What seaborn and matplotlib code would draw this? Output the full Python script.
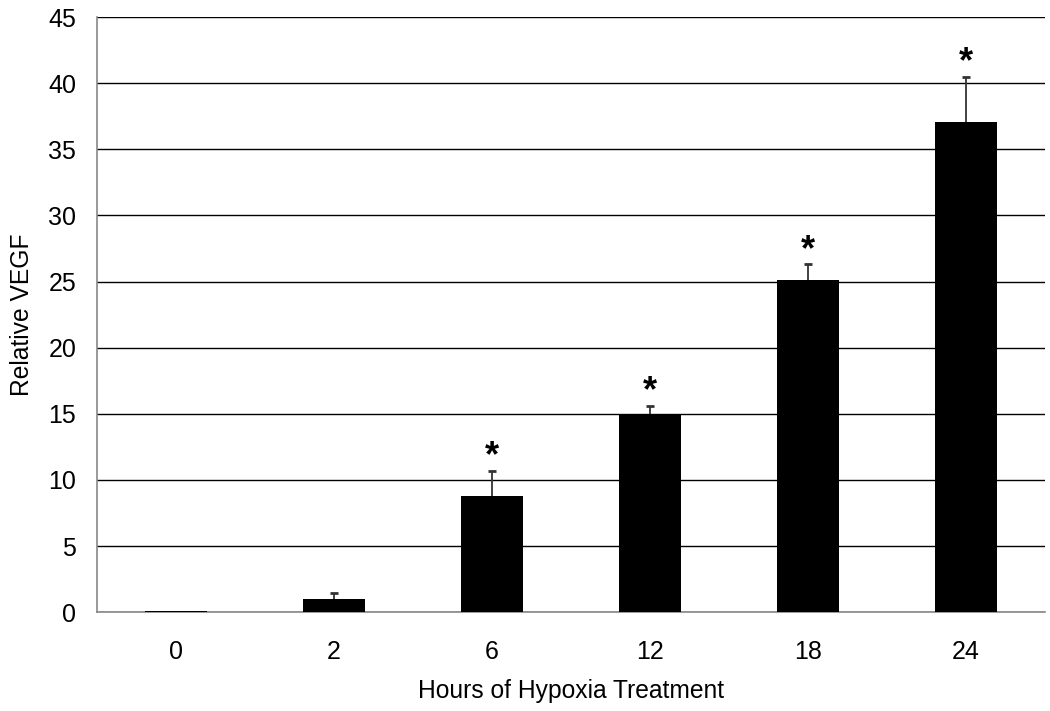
import matplotlib
matplotlib.use("Agg")
import matplotlib.pyplot as plt
import pandas as pd
import numpy as np
import seaborn as sns

# values
hours = ["0", "2", "6", "12", "18", "24"]
vegf = [0.1, 1.0, 8.8, 15.0, 25.1, 37.1]
err = [0.0, 0.45, 1.9, 0.6, 1.2, 3.4]
signif = [False, False, True, True, True, True]

df = pd.DataFrame({"hours": hours, "vegf": vegf})

sns.set_theme(style="white")
plt.rcParams['font.family'] = ['Liberation Sans', 'DejaVu Sans']
plt.rcParams['text.color'] = 'black'
plt.rcParams['xtick.color'] = 'black'
plt.rcParams['ytick.color'] = 'black'
plt.rcParams['axes.labelcolor'] = 'black'

fig = plt.figure(figsize=(10.5, 7.11), dpi=100)
ax = fig.add_axes([0.0924, 0.139, 0.903, 0.837])

sns.barplot(data=df, x="hours", y="vegf", order=hours, color="black",
            width=0.39, edgecolor="none", errorbar=None, ax=ax, zorder=3)

# upper-only error bars with a small cap
x = np.arange(len(hours))
tops = np.array(vegf) + np.array(err)
has_err = np.array(err) > 0
ax.vlines(x[has_err], np.array(vegf)[has_err], tops[has_err],
          color="#333333", linewidth=1.3, zorder=4)
ax.hlines(tops[has_err], x[has_err] - 0.025, x[has_err] + 0.025,
          color="#333333", linewidth=2, zorder=4)

for xi, t, s in zip(x, tops, signif):
    if s:
        ax.annotate("*", (xi, t), xytext=(0, -2.5), textcoords="offset points",
                    ha="center", va="bottom", fontsize=26, fontweight="bold")

ax.set_ylim(0, 45)
ax.set_xlim(-0.5, len(hours) - 0.5)
ax.set_yticks(range(0, 50, 5))
ax.yaxis.grid(True, color="black", linewidth=1.0, zorder=0)
ax.set_axisbelow(True)
ax.tick_params(axis="both", length=0, labelsize=18)
ax.tick_params(axis="y", pad=15)
ax.tick_params(axis="x", pad=20)
ax.set_xlabel("Hours of Hypoxia Treatment", fontsize=17.7, labelpad=11)
ax.set_ylabel("Relative VEGF", fontsize=17.7, labelpad=10)

for side in ["left", "bottom"]:
    ax.spines[side].set_color("#888888")
    ax.spines[side].set_linewidth(1.2)
for side in ["top", "right"]:
    ax.spines[side].set_visible(False)

fig.savefig("out.png", dpi=100)
